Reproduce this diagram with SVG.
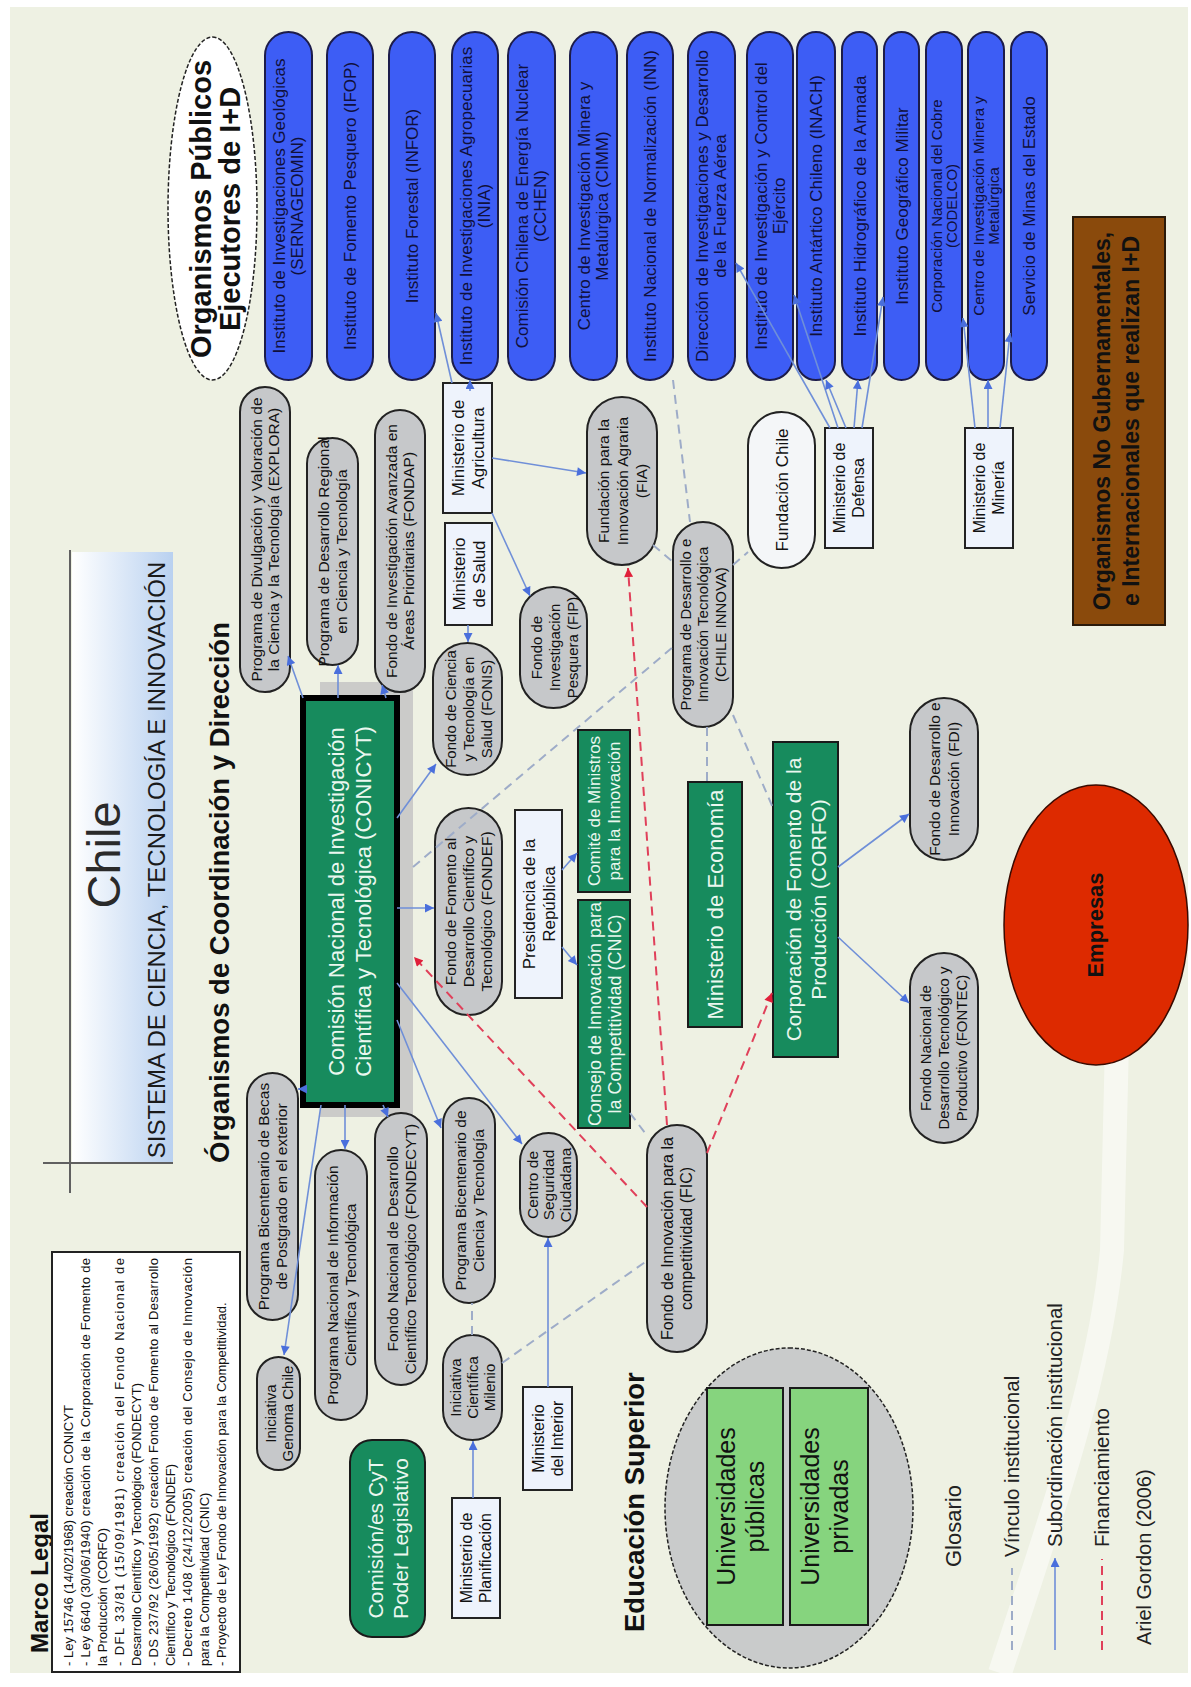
<svg xmlns="http://www.w3.org/2000/svg" width="1191" height="1687" viewBox="0 0 1191 1687">
<defs>
<style>
text{font-family:'Liberation Sans',Arial,sans-serif;}
.g{fill:#c6c8ca;stroke:#222;stroke-width:2;}
.gw{fill:#f4f6f8;stroke:#222;stroke-width:2;}
.m{fill:#eef3fc;stroke:#222;stroke-width:2;}
.gr{fill:#178b5d;stroke:#1a1a1a;stroke-width:2;}
.lg{fill:#86d47e;stroke:#1a1a1a;stroke-width:2;}
.pill{fill:#3d5df5;stroke:#1c1c4a;stroke-width:2;}
.t{fill:#111;text-anchor:middle;}
.tw{fill:#eaf7ef;text-anchor:middle;}
.tp{fill:#10103c;text-anchor:middle;}
.hb{font-weight:bold;fill:#111;}
.sub{stroke:#6f8fd8;stroke-width:1.6;fill:none;marker-end:url(#ab);}
.vin{stroke:#9eacc8;stroke-width:2;stroke-dasharray:9 6;fill:none;}
.fin{stroke:#e0405a;stroke-width:2;stroke-dasharray:9 6;fill:none;marker-end:url(#ar);}
.ml{fill:#111;}
</style>
<marker id="ab" viewBox="0 0 10 10" refX="10" refY="5" markerWidth="11" markerHeight="9" markerUnits="userSpaceOnUse" orient="auto"><path d="M0,0 L10,5 L0,10 z" fill="#4a6fdc"/></marker>
<marker id="ar" viewBox="0 0 10 10" refX="10" refY="5" markerWidth="11" markerHeight="9" markerUnits="userSpaceOnUse" orient="auto"><path d="M0,0 L10,5 L0,10 z" fill="#e0203a"/></marker>
<linearGradient id="tg" x1="0" y1="0" x2="0" y2="1"><stop offset="0" stop-color="#ffffff"/><stop offset="1" stop-color="#b9d1f0"/></linearGradient>
</defs>
<rect width="1191" height="1687" fill="#ffffff"/>
<rect x="10" y="7" width="1178" height="1666" fill="#eef1e3"/>
<path d="M1000,1673 C1050,1520 1100,1380 1112,1250 L1118,1000" fill="none" stroke="#ffffff" stroke-width="24" opacity="0.5"/>
<g transform="translate(0,1687) rotate(-90)">

<g id="title">
<rect x="524" y="72" width="611" height="101" fill="url(#tg)"/>
<line x1="494" y1="70" x2="1137" y2="70" stroke="#606060" stroke-width="2"/>
<line x1="524" y1="43" x2="524" y2="173" stroke="#606060" stroke-width="2"/>
<text x="832" y="120" text-anchor="middle" font-size="47" fill="#2a2a2a">Chile</text>
<text x="827" y="165" text-anchor="middle" font-size="24" fill="#1a1a1a">SISTEMA DE CIENCIA, TECNOLOGÍA E INNOVACIÓN</text>
</g>

<g id="marco-legal">
<text x="34" y="48" class="hb" font-size="24">Marco Legal</text>
<rect x="15" y="52" width="420" height="188" fill="#ffffff" stroke="#222" stroke-width="2"/>
<g font-size="13">
<text class="ml" x="21" y="73">- Ley 15746 (14/02/1968) creación CONICYT</text>
<text class="ml" x="21" y="90" textLength="408" lengthAdjust="spacing">- Ley 6640 (30/06/1940) creación de la Corporación de Fomento de</text>
<text class="ml" x="21" y="107">la Producción (CORFO)</text>
<text class="ml" x="21" y="124" textLength="408" lengthAdjust="spacing">- DFL 33/81 (15/09/1981) creación del Fondo Nacional de</text>
<text class="ml" x="21" y="141">Desarrollo Científico y Tecnológico (FONDECYT)</text>
<text class="ml" x="21" y="158" textLength="408" lengthAdjust="spacing">- DS 237/92 (26/05/1992) creación Fondo de Fomento al Desarrollo</text>
<text class="ml" x="21" y="175">Científico y Tecnológico (FONDEF)</text>
<text class="ml" x="21" y="192" textLength="408" lengthAdjust="spacing">- Decreto 1408 (24/12/2005) creación del Consejo de Innovación</text>
<text class="ml" x="21" y="209">para la Competitividad (CNIC)</text>
<text class="ml" x="21" y="226">- Proyecto de Ley Fondo de Innovación para la Competitividad.</text>
</g>
</g>

<g id="headers">
<text x="524" y="229" class="hb" font-size="27.5">Órganismos de Coordinación y Dirección</text>
<text x="55" y="644" class="hb" font-size="27.5">Educación Superior</text>
</g>

<g id="ejecutores-label">
<ellipse cx="1478.5" cy="212.5" rx="171.5" ry="44.5" fill="#ffffff" stroke="#222" stroke-width="1.5" stroke-dasharray="4 2"/>
<text x="1478" y="211" text-anchor="middle" class="hb" font-size="29">Organismos Públicos</text>
<text x="1478" y="240" text-anchor="middle" class="hb" font-size="29">Ejecutores de I+D</text>
</g>

<g id="pills" font-size="17">
<g id="pill-sernageomin"><rect class="pill" x="1307" y="265" width="348" height="47" rx="23.5"/><text class="tp"><tspan x="1481" y="285.4">Instituto de Investigaciones Geológicas</tspan><tspan x="1481" y="303.4">(SERNAGEOMIN)</tspan></text></g>
<g id="pill-ifop"><rect class="pill" x="1307" y="327" width="348" height="46" rx="23"/><text class="tp" x="1481" y="356">Instituto de Fomento Pesquero (IFOP)</text></g>
<g id="pill-infor"><rect class="pill" x="1307" y="389" width="348" height="46" rx="23"/><text class="tp" x="1481" y="418">Instituto Forestal (INFOR)</text></g>
<g id="pill-inia"><rect class="pill" x="1307" y="452" width="348" height="46" rx="23"/><text class="tp"><tspan x="1481" y="471.9">Instituto de Investigaciones Agropecuarias</tspan><tspan x="1481" y="489.9">(INIA)</tspan></text></g>
<g id="pill-cchen"><rect class="pill" x="1307" y="508" width="348" height="47" rx="23.5"/><text class="tp"><tspan x="1481" y="528.4">Comisión Chilena de Energía Nuclear</tspan><tspan x="1481" y="546.4">(CCHEN)</tspan></text></g>
<g id="pill-cimm"><rect class="pill" x="1307" y="570" width="348" height="47" rx="23.5"/><text class="tp"><tspan x="1481" y="590.4">Centro de Investigación Minera y</tspan><tspan x="1481" y="608.4">Metalúrgica (CIMM)</tspan></text></g>
<g id="pill-inn"><rect class="pill" x="1307" y="627" width="348" height="46" rx="23"/><text class="tp" x="1481" y="656">Instituto Nacional de Normalización (INN)</text></g>
<g id="pill-fach"><rect class="pill" x="1307" y="688" width="348" height="47" rx="23.5"/><text class="tp"><tspan x="1481" y="708.4">Dirección de Investigaciones y Desarrollo</tspan><tspan x="1481" y="726.4">de la Fuerza Aérea</tspan></text></g>
<g id="pill-ejercito"><rect class="pill" x="1307" y="747" width="348" height="46" rx="23"/><text class="tp"><tspan x="1481" y="766.9">Instituto de Investigación y Control del</tspan><tspan x="1481" y="784.9">Ejército</tspan></text></g>
<g id="pill-inach"><rect class="pill" x="1307" y="797" width="348" height="38" rx="19"/><text class="tp" x="1481" y="822">Instituto Antártico Chileno (INACH)</text></g>
<g id="pill-shoa"><rect class="pill" x="1307" y="842" width="348" height="35" rx="17.5"/><text class="tp" x="1481" y="865.5">Instituto Hidrográfico de la Armada</text></g>
<g id="pill-igm"><rect class="pill" x="1307" y="884" width="348" height="35" rx="17.5"/><text class="tp" x="1481" y="907.5">Instituto Geográfico Militar</text></g>
<g id="pill-codelco"><rect class="pill" x="1307" y="926" width="348" height="36" rx="18"/><text class="tp" font-size="15"><tspan x="1481" y="941.9">Corporación Nacional del Cobre</tspan><tspan x="1481" y="956.9">(CODELCO)</tspan></text></g>
<g id="pill-cimm2"><rect class="pill" x="1307" y="968" width="348" height="36" rx="18"/><text class="tp" font-size="15"><tspan x="1481" y="983.9">Centro de Investigación Minera y</tspan><tspan x="1481" y="998.9">Metalúrgica</tspan></text></g>
<g id="pill-sernamin"><rect class="pill" x="1307" y="1011" width="348" height="36" rx="18"/><text class="tp" x="1481" y="1035">Servicio de Minas del Estado</text></g>
</g>

<g id="conicyt">
<rect x="570" y="320" width="435" height="93" fill="#c4c4c4" opacity="0.85"/>
<rect x="582" y="303" width="407" height="94" fill="#178b5d" stroke="#000" stroke-width="6"/>
<text class="tw" font-size="22"><tspan x="785.5" y="344.4">Comisión Nacional de Investigación</tspan><tspan x="785.5" y="371.4">Científica y Tecnológica (CONICYT)</tspan></text>
</g>

<g id="gray-nodes" font-size="15.5">
<g id="explora"><rect class="g" x="995" y="240" width="305" height="50" rx="25"/><text class="t"><tspan x="1147.5" y="262.1">Programa de Divulgación y Valoración de</tspan><tspan x="1147.5" y="279.1">la Ciencia y la Tecnología (EXPLORA)</tspan></text></g>
<g id="regional"><rect class="g" x="1022" y="307" width="227" height="51" rx="25.5"/><text class="t"><tspan x="1135.5" y="329.3">Programa de Desarrollo Regional</tspan><tspan x="1135.5" y="347.3">en Ciencia y Tecnología</tspan></text></g>
<g id="fondap"><rect class="g" x="995" y="375" width="282" height="50" rx="25"/><text class="t"><tspan x="1136" y="397.1">Fondo de Investigación Avanzada en</tspan><tspan x="1136" y="414.1">Áreas Prioritarias (FONDAP)</tspan></text></g>
<g id="becas"><rect class="g" x="367" y="247" width="247" height="51" rx="25.5"/><text class="t"><tspan x="490.5" y="269.3">Programa Bicentenario de Becas</tspan><tspan x="490.5" y="287.3">de Postgrado en el exterior</tspan></text></g>
<g id="genoma"><rect class="g" x="217" y="257" width="113" height="43" rx="21.5"/><text class="t" font-size="15"><tspan x="273.5" y="275.9">Iniciativa</tspan><tspan x="273.5" y="292.9">Genoma Chile</tspan></text></g>
<g id="informacion"><rect class="g" x="267" y="315" width="270" height="52" rx="26"/><text class="t"><tspan x="402" y="337.8">Programa Nacional de Información</tspan><tspan x="402" y="355.8">Científica y Tecnológica</tspan></text></g>
<g id="fondecyt"><rect class="g" x="302" y="375" width="272" height="52" rx="26"/><text class="t"><tspan x="438" y="397.8">Fondo Nacional de Desarrollo</tspan><tspan x="438" y="415.8">Científico Tecnológico (FONDECYT)</tspan></text></g>
<g id="bicentenario-ciencia"><rect class="g" x="384" y="443" width="205" height="52" rx="26"/><text class="t"><tspan x="486.5" y="465.8">Programa Bicentenario de</tspan><tspan x="486.5" y="483.8">Ciencia y Tecnología</tspan></text></g>
<g id="milenio"><rect class="g" x="247" y="443" width="105" height="59" rx="29.5"/><text class="t" font-size="15"><tspan x="299.5" y="460.9">Iniciativa</tspan><tspan x="299.5" y="477.9">Científica</tspan><tspan x="299.5" y="494.9">Milenio</tspan></text></g>
<g id="seguridad"><rect class="g" x="450" y="520" width="104" height="57" rx="28.5"/><text class="t"><tspan x="502" y="537.6">Centro de</tspan><tspan x="502" y="554.1">Seguridad</tspan><tspan x="502" y="570.6">Ciudadana</tspan></text></g>
<g id="fic"><rect class="g" x="335" y="647" width="227" height="60" rx="30"/><text class="t" font-size="16"><tspan x="448.5" y="673.3">Fondo de Innovación para la</tspan><tspan x="448.5" y="692.3">competitividad (FIC)</tspan></text></g>
<g id="fondef"><rect class="g" x="672" y="435" width="207" height="67" rx="33.5"/><text class="t"><tspan x="775.5" y="456.1">Fondo de Fomento al</tspan><tspan x="775.5" y="474.1">Desarrollo Científico y</tspan><tspan x="775.5" y="492.1">Tecnológico (FONDEF)</tspan></text></g>
<g id="fonis"><rect class="g" x="912" y="433" width="132" height="69" rx="34.5"/><text class="t" font-size="15"><tspan x="978" y="455.9">Fondo de Ciencia</tspan><tspan x="978" y="473.9">y Tecnología en</tspan><tspan x="978" y="491.9">Salud (FONIS)</tspan></text></g>
<g id="fip"><rect class="g" x="979" y="520" width="121" height="67" rx="33.5"/><text class="t" font-size="15"><tspan x="1039.5" y="541.9">Fondo de</tspan><tspan x="1039.5" y="559.9">Investigación</tspan><tspan x="1039.5" y="577.9">Pesquera (FIP)</tspan></text></g>
<g id="fia"><rect class="g" x="1122" y="587" width="168" height="70" rx="35"/><text class="t"><tspan x="1206" y="608.6">Fundación para la</tspan><tspan x="1206" y="627.6">Innovación Agraria</tspan><tspan x="1206" y="646.6">(FIA)</tspan></text></g>
<g id="chile-innova"><rect class="g" x="960" y="673" width="205" height="60" rx="30"/><text class="t" font-size="15"><tspan x="1062.5" y="690.9">Programa de Desarrollo e</tspan><tspan x="1062.5" y="708.4">Innovación Tecnológica</tspan><tspan x="1062.5" y="725.9">(CHILE INNOVA)</tspan></text></g>
<g id="fundacion-chile"><rect class="gw" x="1119" y="748" width="156" height="67" rx="33.5"/><text class="t" x="1197" y="787.6" font-size="17">Fundación Chile</text></g>
<g id="fontec"><rect class="g" x="544" y="910" width="190" height="68" rx="34"/><text class="t" font-size="15"><tspan x="639" y="931.4">Fondo Nacional de</tspan><tspan x="639" y="949.4">Desarrollo Tecnológico y</tspan><tspan x="639" y="967.4">Productivo (FONTEC)</tspan></text></g>
<g id="fdi"><rect class="g" x="827" y="910" width="162" height="68" rx="34"/><text class="t"><tspan x="908" y="940.1">Fondo de Desarrollo e</tspan><tspan x="908" y="959.1">Innovación (FDI)</tspan></text></g>
</g>

<g id="ministerios">
<g id="min-planificacion"><rect class="m" x="69" y="452" width="120" height="48"/><text class="t" font-size="16"><tspan x="129" y="472.3">Ministerio de</tspan><tspan x="129" y="491.3">Planificación</tspan></text></g>
<g id="min-interior"><rect class="m" x="197" y="523" width="103" height="49"/><text class="t" font-size="16"><tspan x="248.5" y="543.8">Ministerio</tspan><tspan x="248.5" y="562.8">del Interior</tspan></text></g>
<g id="presidencia"><rect class="m" x="689" y="515" width="188" height="47"/><text class="t" font-size="17"><tspan x="783" y="534.6">Presidencia de la</tspan><tspan x="783" y="554.6">República</tspan></text></g>
<g id="min-salud"><rect class="m" x="1062" y="445" width="102" height="47"/><text class="t" font-size="17"><tspan x="1113" y="464.6">Ministerio</tspan><tspan x="1113" y="484.6">de Salud</tspan></text></g>
<g id="min-agricultura"><rect class="m" x="1174" y="443" width="130" height="49"/><text class="t" font-size="17"><tspan x="1239" y="463.6">Ministerio de</tspan><tspan x="1239" y="483.6">Agricultura</tspan></text></g>
<g id="min-defensa"><rect class="m" x="1139" y="825" width="120" height="48"/><text class="t" font-size="16"><tspan x="1199" y="845.3">Ministerio de</tspan><tspan x="1199" y="864.3">Defensa</tspan></text></g>
<g id="min-mineria"><rect class="m" x="1139" y="965" width="120" height="48"/><text class="t" font-size="16"><tspan x="1199" y="985.3">Ministerio de</tspan><tspan x="1199" y="1004.3">Minería</tspan></text></g>
</g>

<g id="green-boxes">
<g id="cnic"><rect class="gr" x="559" y="578" width="228" height="52"/><text class="tw" font-size="18"><tspan x="673" y="600.5">Consejo de Innovación para</tspan><tspan x="673" y="620.5">la Competitividad (CNIC)</tspan></text></g>
<g id="comite"><rect class="gr" x="795" y="578" width="162" height="52"/><text class="tw" font-size="17"><tspan x="876" y="600.1">Comité de Ministros</tspan><tspan x="876" y="620.1">para la Innovación</tspan></text></g>
<g id="min-economia"><rect class="gr" x="660" y="688" width="245" height="54"/><text class="tw" x="782.5" y="722.9" font-size="22">Ministerio de Economía</text></g>
<g id="corfo"><rect class="gr" x="630" y="773" width="315" height="65"/><text class="tw" font-size="21"><tspan x="787.5" y="800.6">Corporación de Fomento de la</tspan><tspan x="787.5" y="825.6">Producción (CORFO)</tspan></text></g>
<g id="legislativo"><rect class="gr" x="50" y="350" width="197" height="75" rx="22"/><text class="tw" font-size="21"><tspan x="148.5" y="382.6">Comisión/es CyT</tspan><tspan x="148.5" y="407.6">Poder Legislativo</tspan></text></g>
</g>

<g id="educacion-superior">
<ellipse cx="179" cy="789" rx="160" ry="124" fill="#c9cbcb" stroke="#222" stroke-width="1.5" stroke-dasharray="4 2"/>
<rect class="lg" x="62" y="707" width="237" height="76"/>
<text class="t" font-size="25"><tspan x="180.5" y="735">Universidades</tspan><tspan x="180.5" y="764">públicas</tspan></text>
<rect class="lg" x="62" y="790" width="237" height="78"/>
<text class="t" font-size="25"><tspan x="180.5" y="819">Universidades</tspan><tspan x="180.5" y="848">privadas</tspan></text>
</g>

<g id="empresas"><ellipse cx="762" cy="1096" rx="140" ry="92" fill="#dd2a00" stroke="#3a0a00" stroke-width="1.5"/><text x="762" y="1103" text-anchor="middle" class="hb" font-size="22">Empresas</text></g>

<g id="ong"><rect x="1062" y="1073" width="408" height="92" fill="#8a4a0c" stroke="#2a1a0a" stroke-width="2"/><text text-anchor="middle" class="hb" font-size="23"><tspan x="1266" y="1110">Organismos No Gubernamentales,</tspan><tspan x="1266" y="1139">e Internacionales que realizan I+D</tspan></text></g>

<g id="connectors">
<path class="sub" d="M598 303 L598 298"/>
<path class="sub" d="M582 321 L332 284"/>
<path class="sub" d="M582 345 L538 345"/>
<path class="sub" d="M582 383 L570 388"/>
<path class="sub" d="M667 397 L559 441"/>
<path class="sub" d="M704 397 L543 522"/>
<path class="sub" d="M779 397 L779 434"/>
<path class="sub" d="M869 397 L923 436"/>
<path class="sub" d="M989 386 L1002 382"/>
<path class="sub" d="M989 338 L1022 338"/>
<path class="sub" d="M989 303 L1031 288"/>
<path class="sub" d="M1062 468 L1045 468"/>
<path class="sub" d="M1174 492 L1091 530"/>
<path class="sub" d="M1229 492 L1214 586"/>
<path class="sub" d="M1296 470 L1307 470"/>
<path class="sub" d="M1304 452 L1374 436"/>
<path class="sub" d="M300 548 L449 548"/>
<path class="sub" d="M189 473 L246 473"/>
<path class="sub" d="M740 562 L722 577"/>
<path class="sub" d="M817 562 L834 577"/>
<path class="sub" d="M1259 830 L1424 736"/>
<path class="sub" d="M1259 838 L1392 794"/>
<path class="sub" d="M1259 846 L1307 826"/>
<path class="sub" d="M1259 854 L1307 858"/>
<path class="sub" d="M1259 862 L1390 883"/>
<path class="sub" d="M1259 975 L1369 963"/>
<path class="sub" d="M1259 988 L1307 988"/>
<path class="sub" d="M1259 1000 L1354 1010"/>
<path class="sub" d="M750 838 L684 909"/>
<path class="sub" d="M820 838 L873 909"/>
<path class="vin" d="M352 472 L384 472"/>
<path class="vin" d="M324 502 L427 648"/>
<path class="vin" d="M574 630 L550 648"/>
<path class="vin" d="M1307 673 L1165 690"/>
<path class="vin" d="M1122 733 L1135 748"/>
<path class="vin" d="M960 707 L905 707"/>
<path class="vin" d="M972 733 L879 773"/>
<path class="vin" d="M820 413 L1040 673"/>
<path class="vin" d="M1142 653 L1125 673"/>
<path class="fin" d="M480 647 L730 414"/>
<path class="fin" d="M534 707 L694 772"/>
<path class="fin" d="M562 667 L1119 628"/>
</g>

<g id="legend">
<text x="120" y="961" font-size="22" fill="#222">Glosario</text>
<path class="vin" d="M37 1012 L119 1012"/>
<text x="130" y="1019" font-size="20.5" fill="#222">Vínculo institucional</text>
<path class="sub" d="M37 1055 L129 1055"/>
<text x="140" y="1062" font-size="20.5" fill="#222">Subordinación institucional</text>
<path class="vin" d="M37 1102 L128 1102" style="stroke:#e0405a"/>
<text x="140" y="1109" font-size="20.5" fill="#222">Financiamiento</text>
<text x="42" y="1151" font-size="20" fill="#222">Ariel Gordon (2006)</text>
</g>

</g>
</svg>
